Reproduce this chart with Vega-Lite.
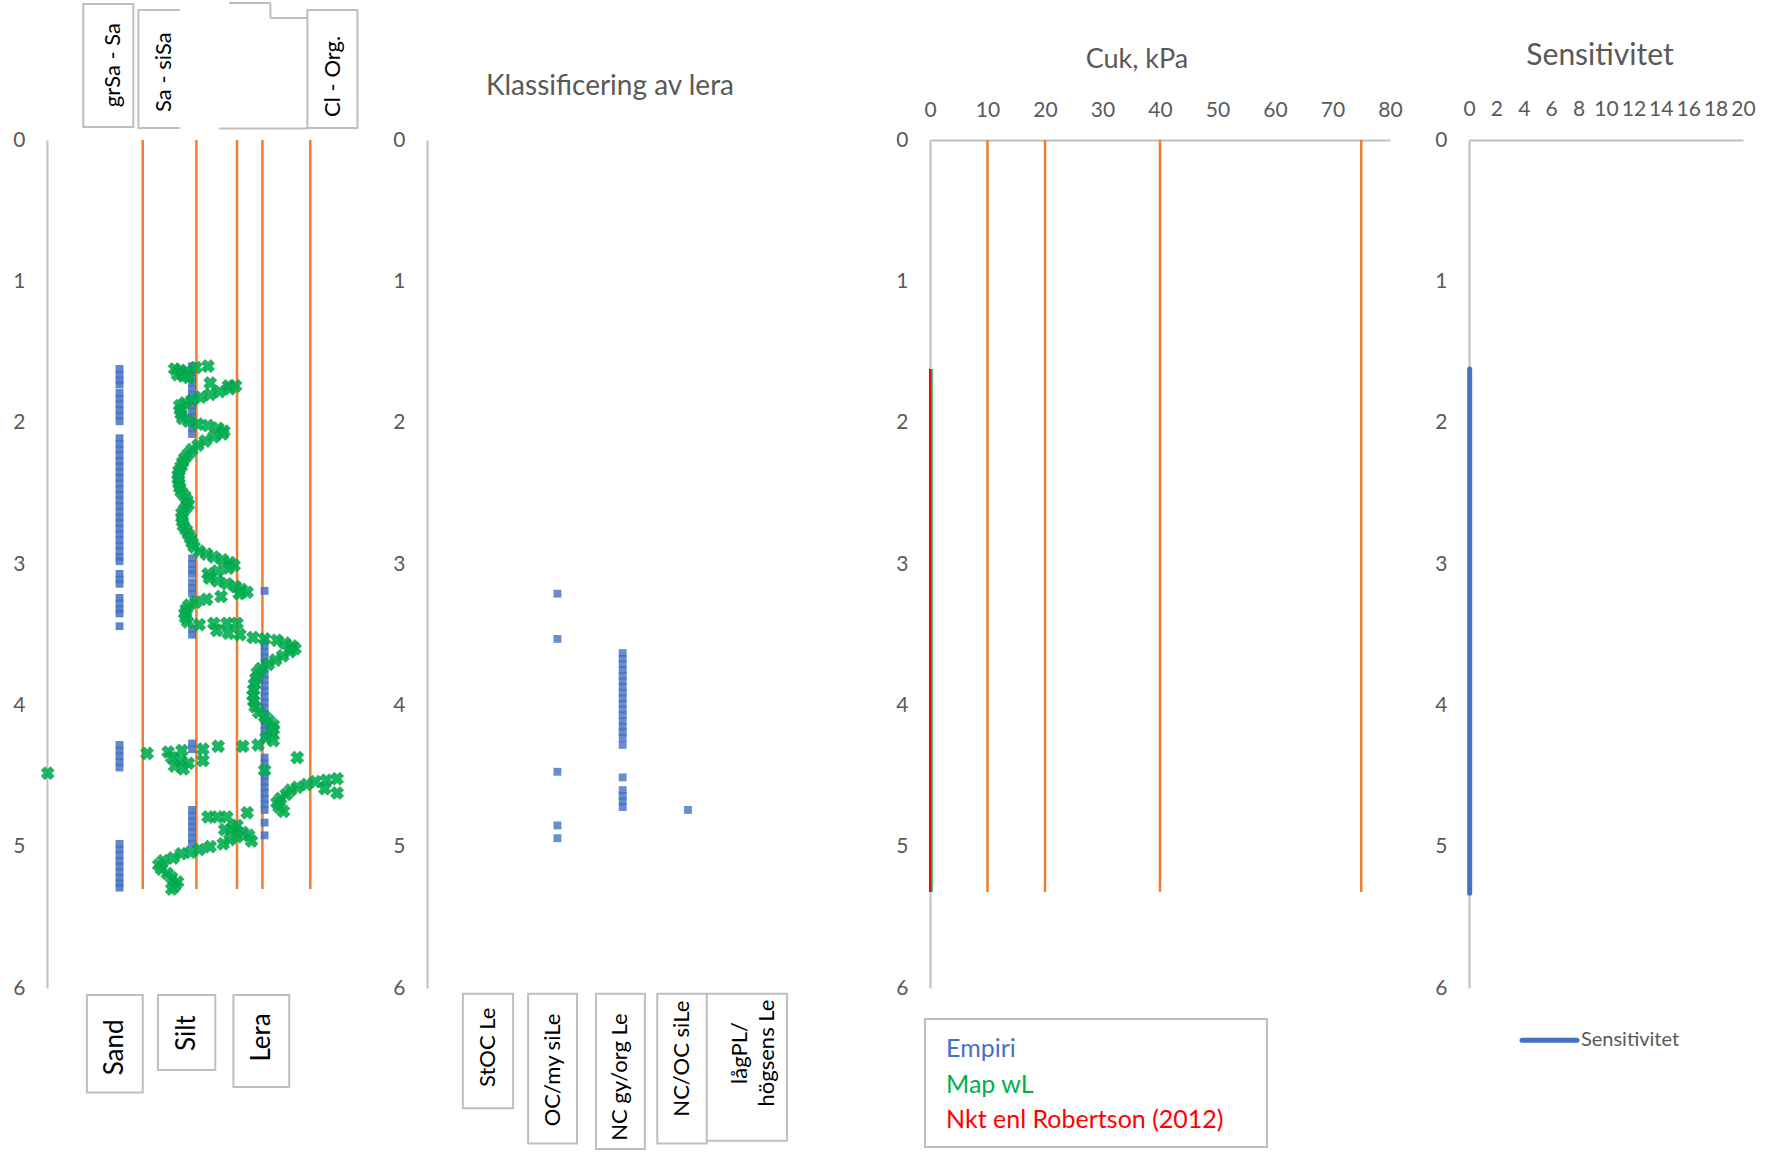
{
  "$schema": "https://vega.github.io/schema/vega-lite/v6.json",
  "padding": {"left": 12, "top": 2, "right": 0, "bottom": 0},
  "bounds": "flush",
  "spacing": 79,
  "config": {
    "view": {"stroke": null},
    "font": "Lato",
    "axis": {"domainColor": "#BFBFBF", "domainWidth": 2, "labelColor": "#595959", "labelFont": "Lato", "labelFontSize": 21, "tickSize": 0, "tickOpacity": 0, "grid": false, "labelPadding": 22, "labelFlush": false},
    "title": {"font": "Lato", "color": "#595959", "fontWeight": "normal", "frame": "group", "anchor": "middle"},
    "text": {"font": "Lato"}
  },
  "datasets": {
    "p1Limits": [{"x": 1.32, "top": 0, "bottom": 5.3}, {"x": 2.06, "top": 0, "bottom": 5.3}, {"x": 2.62, "top": 0, "bottom": 5.3}, {"x": 2.97, "top": 0, "bottom": 5.3}, {"x": 3.63, "top": 0, "bottom": 5.3}],
    "p1Soil": [
      {"v": 1, "d": 1.62}, {"v": 1, "d": 1.66}, {"v": 1, "d": 1.70}, {"v": 1, "d": 1.73},
      {"v": 1, "d": 1.79}, {"v": 1, "d": 1.83}, {"v": 1, "d": 1.87}, {"v": 1, "d": 1.91}, {"v": 1, "d": 1.95}, {"v": 1, "d": 1.99},
      {"v": 1, "d": 2.11}, {"v": 1, "d": 2.15}, {"v": 1, "d": 2.19}, {"v": 1, "d": 2.23}, {"v": 1, "d": 2.27}, {"v": 1, "d": 2.31}, {"v": 1, "d": 2.35}, {"v": 1, "d": 2.39}, {"v": 1, "d": 2.43}, {"v": 1, "d": 2.47}, {"v": 1, "d": 2.51}, {"v": 1, "d": 2.55}, {"v": 1, "d": 2.59}, {"v": 1, "d": 2.63}, {"v": 1, "d": 2.67}, {"v": 1, "d": 2.71}, {"v": 1, "d": 2.75}, {"v": 1, "d": 2.79}, {"v": 1, "d": 2.83}, {"v": 1, "d": 2.87}, {"v": 1, "d": 2.91}, {"v": 1, "d": 2.95}, {"v": 1, "d": 2.98},
      {"v": 1, "d": 3.07}, {"v": 1, "d": 3.11}, {"v": 1, "d": 3.14},
      {"v": 1, "d": 3.24}, {"v": 1, "d": 3.28}, {"v": 1, "d": 3.32}, {"v": 1, "d": 3.35}, {"v": 1, "d": 3.44},
      {"v": 1, "d": 4.28}, {"v": 1, "d": 4.32}, {"v": 1, "d": 4.36}, {"v": 1, "d": 4.40}, {"v": 1, "d": 4.44},
      {"v": 1, "d": 4.98}, {"v": 1, "d": 5.02}, {"v": 1, "d": 5.06}, {"v": 1, "d": 5.10}, {"v": 1, "d": 5.14}, {"v": 1, "d": 5.18}, {"v": 1, "d": 5.22}, {"v": 1, "d": 5.26}, {"v": 1, "d": 5.29},
      {"v": 2, "d": 1.60}, {"v": 2, "d": 1.64}, {"v": 2, "d": 1.68}, {"v": 2, "d": 1.72}, {"v": 2, "d": 1.76}, {"v": 2, "d": 1.80}, {"v": 2, "d": 1.84}, {"v": 2, "d": 1.88}, {"v": 2, "d": 1.92}, {"v": 2, "d": 1.96}, {"v": 2, "d": 2.00}, {"v": 2, "d": 2.04}, {"v": 2, "d": 2.08},
      {"v": 2, "d": 2.96}, {"v": 2, "d": 3.00}, {"v": 2, "d": 3.04}, {"v": 2, "d": 3.07}, {"v": 2, "d": 3.13}, {"v": 2, "d": 3.17}, {"v": 2, "d": 3.21}, {"v": 2, "d": 3.46}, {"v": 2, "d": 3.50},
      {"v": 2, "d": 4.27}, {"v": 2, "d": 4.31}, {"v": 2, "d": 4.74}, {"v": 2, "d": 4.78}, {"v": 2, "d": 4.82}, {"v": 2, "d": 4.86}, {"v": 2, "d": 4.90}, {"v": 2, "d": 4.94}, {"v": 2, "d": 4.98},
      {"v": 3, "d": 3.19}, {"v": 3, "d": 3.54}, {"v": 3, "d": 3.58}, {"v": 3, "d": 3.62}, {"v": 3, "d": 3.66}, {"v": 3, "d": 3.70}, {"v": 3, "d": 3.74}, {"v": 3, "d": 3.78}, {"v": 3, "d": 3.82}, {"v": 3, "d": 3.86}, {"v": 3, "d": 3.90}, {"v": 3, "d": 3.94}, {"v": 3, "d": 3.98}, {"v": 3, "d": 4.02}, {"v": 3, "d": 4.06}, {"v": 3, "d": 4.10}, {"v": 3, "d": 4.14}, {"v": 3, "d": 4.18}, {"v": 3, "d": 4.22},
      {"v": 3, "d": 4.37}, {"v": 3, "d": 4.41}, {"v": 3, "d": 4.46}, {"v": 3, "d": 4.50}, {"v": 3, "d": 4.54}, {"v": 3, "d": 4.58}, {"v": 3, "d": 4.62}, {"v": 3, "d": 4.66}, {"v": 3, "d": 4.70}, {"v": 3, "d": 4.74}, {"v": 3, "d": 4.83}, {"v": 3, "d": 4.92}
    ],
    "p1Map": [
      {"d": 1.60, "v": 2.22}, {"d": 1.61, "v": 2.05}, {"d": 1.62, "v": 1.76}, {"d": 1.63, "v": 1.84}, {"d": 1.64, "v": 1.92}, {"d": 1.66, "v": 1.80}, {"d": 1.67, "v": 1.88}, {"d": 1.68, "v": 1.95},
      {"d": 1.72, "v": 2.25}, {"d": 1.74, "v": 2.50}, {"d": 1.74, "v": 2.60}, {"d": 1.76, "v": 2.52}, {"d": 1.78, "v": 2.38}, {"d": 1.80, "v": 2.25}, {"d": 1.82, "v": 2.12}, {"d": 1.84, "v": 2.00}, {"d": 1.86, "v": 1.90}, {"d": 1.88, "v": 1.83},
      {"d": 1.91, "v": 1.84}, {"d": 1.94, "v": 1.85}, {"d": 1.97, "v": 1.87}, {"d": 1.99, "v": 1.95}, {"d": 2.01, "v": 2.08}, {"d": 2.02, "v": 2.22}, {"d": 2.04, "v": 2.36}, {"d": 2.06, "v": 2.44}, {"d": 2.08, "v": 2.42}, {"d": 2.10, "v": 2.30},
      {"d": 2.13, "v": 2.18}, {"d": 2.16, "v": 2.08}, {"d": 2.19, "v": 2.00}, {"d": 2.22, "v": 1.95}, {"d": 2.25, "v": 1.90}, {"d": 2.28, "v": 1.87}, {"d": 2.31, "v": 1.85}, {"d": 2.34, "v": 1.82}, {"d": 2.37, "v": 1.81}, {"d": 2.40, "v": 1.81},
      {"d": 2.43, "v": 1.82}, {"d": 2.46, "v": 1.83}, {"d": 2.49, "v": 1.85}, {"d": 2.52, "v": 1.90}, {"d": 2.55, "v": 1.93}, {"d": 2.58, "v": 1.95}, {"d": 2.61, "v": 1.90}, {"d": 2.64, "v": 1.86}, {"d": 2.67, "v": 1.86}, {"d": 2.70, "v": 1.87},
      {"d": 2.73, "v": 1.88}, {"d": 2.76, "v": 1.92}, {"d": 2.79, "v": 1.95}, {"d": 2.82, "v": 1.98}, {"d": 2.85, "v": 2.00}, {"d": 2.88, "v": 2.03}, {"d": 2.91, "v": 2.10}, {"d": 2.93, "v": 2.20}, {"d": 2.95, "v": 2.30}, {"d": 2.97, "v": 2.42},
      {"d": 2.99, "v": 2.52}, {"d": 3.01, "v": 2.58}, {"d": 3.03, "v": 2.50}, {"d": 3.05, "v": 2.35}, {"d": 3.07, "v": 2.22}, {"d": 3.10, "v": 2.24}, {"d": 3.12, "v": 2.35}, {"d": 3.14, "v": 2.48}, {"d": 3.16, "v": 2.60}, {"d": 3.18, "v": 2.68},
      {"d": 3.20, "v": 2.76}, {"d": 3.21, "v": 2.65}, {"d": 3.23, "v": 2.40}, {"d": 3.25, "v": 2.20}, {"d": 3.27, "v": 2.05}, {"d": 3.29, "v": 1.96}, {"d": 3.32, "v": 1.92}, {"d": 3.35, "v": 1.90}, {"d": 3.38, "v": 1.91}, {"d": 3.41, "v": 1.94},
      {"d": 3.43, "v": 2.10}, {"d": 3.42, "v": 2.30}, {"d": 3.42, "v": 2.48}, {"d": 3.42, "v": 2.62}, {"d": 3.47, "v": 2.34}, {"d": 3.49, "v": 2.50}, {"d": 3.50, "v": 2.66}, {"d": 3.52, "v": 2.84}, {"d": 3.53, "v": 3.00}, {"d": 3.54, "v": 3.17},
      {"d": 3.56, "v": 3.28}, {"d": 3.58, "v": 3.38}, {"d": 3.60, "v": 3.42}, {"d": 3.62, "v": 3.35}, {"d": 3.65, "v": 3.25}, {"d": 3.68, "v": 3.15}, {"d": 3.71, "v": 3.05}, {"d": 3.74, "v": 2.95}, {"d": 3.77, "v": 2.90}, {"d": 3.81, "v": 2.88},
      {"d": 3.85, "v": 2.86}, {"d": 3.89, "v": 2.85}, {"d": 3.93, "v": 2.84}, {"d": 3.97, "v": 2.85}, {"d": 4.01, "v": 2.87}, {"d": 4.05, "v": 2.92}, {"d": 4.08, "v": 3.00}, {"d": 4.11, "v": 3.06}, {"d": 4.14, "v": 3.12}, {"d": 4.17, "v": 3.12},
      {"d": 4.20, "v": 3.10}, {"d": 4.23, "v": 3.02}, {"d": 4.25, "v": 3.12}, {"d": 4.28, "v": 2.91}, {"d": 4.29, "v": 2.70}, {"d": 4.29, "v": 2.36}, {"d": 4.31, "v": 2.15}, {"d": 4.32, "v": 1.86}, {"d": 4.33, "v": 1.67}, {"d": 4.34, "v": 1.38},
      {"d": 4.37, "v": 1.72}, {"d": 4.39, "v": 1.84}, {"d": 4.41, "v": 1.95}, {"d": 4.43, "v": 1.76}, {"d": 4.45, "v": 1.88}, {"d": 4.39, "v": 2.15}, {"d": 4.37, "v": 3.45}, {"d": 4.46, "v": 3.00}, {"d": 4.48, "v": 0.01},
      {"d": 4.52, "v": 4.00}, {"d": 4.53, "v": 3.85}, {"d": 4.54, "v": 3.70}, {"d": 4.56, "v": 3.58}, {"d": 4.58, "v": 3.45}, {"d": 4.60, "v": 3.36}, {"d": 4.59, "v": 3.83}, {"d": 4.62, "v": 4.00}, {"d": 4.63, "v": 3.30}, {"d": 4.66, "v": 3.22},
      {"d": 4.69, "v": 3.17}, {"d": 4.72, "v": 3.20}, {"d": 4.75, "v": 3.26}, {"d": 4.79, "v": 2.22}, {"d": 4.79, "v": 2.35}, {"d": 4.79, "v": 2.48}, {"d": 4.76, "v": 2.76}, {"d": 4.85, "v": 2.62}, {"d": 4.87, "v": 2.55}, {"d": 4.88, "v": 2.45},
      {"d": 4.90, "v": 2.70}, {"d": 4.92, "v": 2.78}, {"d": 4.93, "v": 2.62}, {"d": 4.95, "v": 2.52}, {"d": 4.96, "v": 2.82}, {"d": 4.98, "v": 2.43}, {"d": 5.00, "v": 2.25}, {"d": 5.02, "v": 2.10}, {"d": 5.04, "v": 1.98}, {"d": 5.05, "v": 1.85},
      {"d": 5.08, "v": 1.74}, {"d": 5.10, "v": 1.60}, {"d": 5.13, "v": 1.54}, {"d": 5.16, "v": 1.58}, {"d": 5.19, "v": 1.66}, {"d": 5.22, "v": 1.72}, {"d": 5.25, "v": 1.80}, {"d": 5.28, "v": 1.76}, {"d": 5.30, "v": 1.72}
    ],
    "p1TopBoxes": [
      {"x1": 0.50, "x2": 1.19, "y1": -0.962, "y2": -0.092},
      {"x1": 1.26, "x2": 1.95, "y1": -0.92, "y2": -0.085}
    ],
    "p1Edges": [
      {"x1": 2.51, "x2": 3.08, "y": -0.969},
      {"x1": 3.08, "x2": 3.59, "y": -0.863},
      {"x1": 2.37, "x2": 3.59, "y": -0.081}
    ],
    "p1TopLabels": [
      {"t": "grSa - Sa", "tx": 0.91, "ty": -0.53},
      {"t": "Sa - siSa", "tx": 1.61, "ty": -0.48},
      {"t": "Cl - Org.", "tx": 3.94, "ty": -0.45}
    ],
    "p1Classes": [
      {"t": "Sand", "x1": 0.55, "x2": 1.32, "y1": 6.05, "y2": 6.74, "tx": 0.94, "ty": 6.42},
      {"t": "Silt", "x1": 1.53, "x2": 2.32, "y1": 6.05, "y2": 6.58, "tx": 1.93, "ty": 6.32},
      {"t": "Lera", "x1": 2.57, "x2": 3.34, "y1": 6.05, "y2": 6.70, "tx": 2.96, "ty": 6.35}
    ],
    "p2Clay": [
      {"v": 2, "d": 3.21}, {"v": 2, "d": 3.53}, {"v": 2, "d": 4.47}, {"v": 2, "d": 4.85}, {"v": 2, "d": 4.94},
      {"v": 3, "d": 3.63}, {"v": 3, "d": 3.67}, {"v": 3, "d": 3.71}, {"v": 3, "d": 3.75}, {"v": 3, "d": 3.79}, {"v": 3, "d": 3.83}, {"v": 3, "d": 3.87}, {"v": 3, "d": 3.91}, {"v": 3, "d": 3.95}, {"v": 3, "d": 3.99}, {"v": 3, "d": 4.03}, {"v": 3, "d": 4.07}, {"v": 3, "d": 4.11}, {"v": 3, "d": 4.15}, {"v": 3, "d": 4.19}, {"v": 3, "d": 4.23}, {"v": 3, "d": 4.28},
      {"v": 3, "d": 4.51}, {"v": 3, "d": 4.60}, {"v": 3, "d": 4.64}, {"v": 3, "d": 4.68}, {"v": 3, "d": 4.72},
      {"v": 4, "d": 4.74}
    ],
    "p2Classes": [
      {"t": "StOC Le", "x1": 0.55, "x2": 1.32, "y1": 6.04, "y2": 6.85, "tx": 0.94, "ty": 6.42},
      {"t": "OC/my siLe", "x1": 1.55, "x2": 2.30, "y1": 6.04, "y2": 7.10, "tx": 1.93, "ty": 6.58},
      {"t": "NC gy/org Le", "x1": 2.59, "x2": 3.34, "y1": 6.04, "y2": 7.14, "tx": 2.96, "ty": 6.63},
      {"t": "NC/OC siLe", "x1": 3.53, "x2": 4.29, "y1": 6.04, "y2": 7.10, "tx": 3.91, "ty": 6.50},
      {"t": "lågPL/\nhögsens Le", "x1": 4.29, "x2": 5.52, "y1": 6.04, "y2": 7.08, "tx": 4.80, "ty": 6.46}
    ],
    "p3Limits": [{"x": 10, "top": 0, "bottom": 5.32}, {"x": 20, "top": 0, "bottom": 5.32}, {"x": 40, "top": 0, "bottom": 5.32}, {"x": 75, "top": 0, "bottom": 5.32}],
    "cuk": [
      {"s": "Empiri", "d": 1.62, "c": 0.0}, {"s": "Empiri", "d": 2.5, "c": 0.0}, {"s": "Empiri", "d": 3.5, "c": 0.0}, {"s": "Empiri", "d": 4.5, "c": 0.0}, {"s": "Empiri", "d": 5.32, "c": 0.0},
      {"s": "Map wL", "d": 1.62, "c": 0.3}, {"s": "Map wL", "d": 2.5, "c": 0.3}, {"s": "Map wL", "d": 3.5, "c": 0.3}, {"s": "Map wL", "d": 4.5, "c": 0.3}, {"s": "Map wL", "d": 5.32, "c": 0.3},
      {"s": "Nkt enl Robertson (2012)", "d": 1.62, "c": 0.0}, {"s": "Nkt enl Robertson (2012)", "d": 2.5, "c": 0.0}, {"s": "Nkt enl Robertson (2012)", "d": 3.5, "c": 0.0}, {"s": "Nkt enl Robertson (2012)", "d": 4.5, "c": 0.0}, {"s": "Nkt enl Robertson (2012)", "d": 5.32, "c": 0.0}
    ],
    "cukKey": [
      {"s": "Empiri", "x": 2.8, "d": 6.49},
      {"s": "Map wL", "x": 2.8, "d": 6.74},
      {"s": "Nkt enl Robertson (2012)", "x": 2.8, "d": 6.99}
    ],
    "sens": [{"d": 1.62, "st": 0.05}, {"d": 2.5, "st": 0.05}, {"d": 3.5, "st": 0.05}, {"d": 4.5, "st": 0.05}, {"d": 5.33, "st": 0.05}],
    "sensKey": [{"x1": 3.87, "x2": 7.88, "tx": 8.17, "d": 6.37, "t": "Sensitivitet"}]
  },
  "hconcat": [
    {
      "width": 301,
      "height": 848,
      "layer": [
        {
          "data": {"name": "p1Limits"},
          "mark": {"type": "rule", "color": "#ED7D31", "strokeWidth": 2.5},
          "encoding": {
            "x": {"field": "x", "type": "quantitative", "title": null, "axis": null, "scale": {"domain": [0, 4.15], "nice": false, "zero": false}},
            "y": {"field": "top", "type": "quantitative", "title": null, "scale": {"domain": [0, 6], "reverse": true, "nice": false, "zero": false}, "axis": {"values": [0, 1, 2, 3, 4, 5, 6]}},
            "y2": {"field": "bottom"}
          }
        },
        {
          "data": {"name": "p1Soil"},
          "mark": {"type": "point", "shape": "square", "filled": true, "size": 62, "color": "#4472C4", "opacity": 0.85},
          "encoding": {
            "x": {"field": "v", "type": "quantitative", "title": null, "axis": null, "scale": {"domain": [0, 4.15], "nice": false, "zero": false}},
            "y": {"field": "d", "type": "quantitative", "title": null, "scale": {"domain": [0, 6], "reverse": true, "nice": false, "zero": false}, "axis": {"values": [0, 1, 2, 3, 4, 5, 6]}}
          }
        },
        {
          "data": {"name": "p1Map"},
          "mark": {"type": "point", "shape": "cross", "angle": 45, "filled": true, "size": 175, "color": "#00B050", "stroke": "#0E8F45", "strokeWidth": 0.6, "opacity": 0.9},
          "encoding": {
            "x": {"field": "v", "type": "quantitative", "title": null, "axis": null, "scale": {"domain": [0, 4.15], "nice": false, "zero": false}},
            "y": {"field": "d", "type": "quantitative", "title": null, "scale": {"domain": [0, 6], "reverse": true, "nice": false, "zero": false}, "axis": {"values": [0, 1, 2, 3, 4, 5, 6]}}
          }
        },
        {
          "data": {"name": "p1TopBoxes"},
          "mark": {"type": "rect", "fill": "white", "stroke": "#BFBFBF", "strokeWidth": 2},
          "encoding": {
            "x": {"field": "x1", "type": "quantitative", "title": null, "axis": null, "scale": {"domain": [0, 4.15], "nice": false, "zero": false}},
            "x2": {"field": "x2"},
            "y": {"field": "y1", "type": "quantitative", "title": null, "scale": {"domain": [0, 6], "reverse": true, "nice": false, "zero": false}, "axis": {"values": [0, 1, 2, 3, 4, 5, 6]}},
            "y2": {"field": "y2"}
          }
        },
        {
          "data": {"values": [{"x1": 1.83, "x2": 3.59, "y1": -0.975, "y2": -0.078}]},
          "mark": {"type": "rect", "fill": "white", "strokeWidth": 0},
          "encoding": {
            "x": {"field": "x1", "type": "quantitative", "title": null, "axis": null, "scale": {"domain": [0, 4.15], "nice": false, "zero": false}},
            "x2": {"field": "x2"},
            "y": {"field": "y1", "type": "quantitative", "title": null, "scale": {"domain": [0, 6], "reverse": true, "nice": false, "zero": false}, "axis": {"values": [0, 1, 2, 3, 4, 5, 6]}},
            "y2": {"field": "y2"}
          }
        },
        {
          "data": {"name": "p1Edges"},
          "mark": {"type": "rule", "color": "#BFBFBF", "strokeWidth": 2},
          "encoding": {
            "x": {"field": "x1", "type": "quantitative", "title": null, "axis": null, "scale": {"domain": [0, 4.15], "nice": false, "zero": false}},
            "x2": {"field": "x2"},
            "y": {"field": "y", "type": "quantitative", "title": null, "scale": {"domain": [0, 6], "reverse": true, "nice": false, "zero": false}, "axis": {"values": [0, 1, 2, 3, 4, 5, 6]}}
          }
        },
        {
          "data": {"values": [{"x": 3.08, "y1": -0.969, "y2": -0.863}]},
          "mark": {"type": "rule", "color": "#BFBFBF", "strokeWidth": 2},
          "encoding": {
            "x": {"field": "x", "type": "quantitative", "title": null, "axis": null, "scale": {"domain": [0, 4.15], "nice": false, "zero": false}},
            "y": {"field": "y1", "type": "quantitative", "title": null, "scale": {"domain": [0, 6], "reverse": true, "nice": false, "zero": false}, "axis": {"values": [0, 1, 2, 3, 4, 5, 6]}},
            "y2": {"field": "y2"}
          }
        },
        {
          "data": {"values": [{"x1": 3.59, "x2": 4.28, "y1": -0.92, "y2": -0.085}]},
          "mark": {"type": "rect", "fill": "white", "stroke": "#BFBFBF", "strokeWidth": 2},
          "encoding": {
            "x": {"field": "x1", "type": "quantitative", "title": null, "axis": null, "scale": {"domain": [0, 4.15], "nice": false, "zero": false}},
            "x2": {"field": "x2"},
            "y": {"field": "y1", "type": "quantitative", "title": null, "scale": {"domain": [0, 6], "reverse": true, "nice": false, "zero": false}, "axis": {"values": [0, 1, 2, 3, 4, 5, 6]}},
            "y2": {"field": "y2"}
          }
        },
        {
          "data": {"name": "p1TopLabels"},
          "mark": {"type": "text", "angle": 270, "fontSize": 22, "color": "#000000", "align": "center", "baseline": "middle"},
          "encoding": {
            "x": {"field": "tx", "type": "quantitative", "title": null, "axis": null, "scale": {"domain": [0, 4.15], "nice": false, "zero": false}},
            "y": {"field": "ty", "type": "quantitative", "title": null, "scale": {"domain": [0, 6], "reverse": true, "nice": false, "zero": false}, "axis": {"values": [0, 1, 2, 3, 4, 5, 6]}},
            "text": {"field": "t"}
          }
        },
        {
          "data": {"name": "p1Classes"},
          "mark": {"type": "rect", "fill": "white", "stroke": "#BFBFBF", "strokeWidth": 2},
          "encoding": {
            "x": {"field": "x1", "type": "quantitative", "title": null, "axis": null, "scale": {"domain": [0, 4.15], "nice": false, "zero": false}},
            "x2": {"field": "x2"},
            "y": {"field": "y1", "type": "quantitative", "title": null, "scale": {"domain": [0, 6], "reverse": true, "nice": false, "zero": false}, "axis": {"values": [0, 1, 2, 3, 4, 5, 6]}},
            "y2": {"field": "y2"}
          }
        },
        {
          "data": {"name": "p1Classes"},
          "mark": {"type": "text", "angle": 270, "fontSize": 26, "color": "#000000", "align": "center", "baseline": "middle"},
          "encoding": {
            "x": {"field": "tx", "type": "quantitative", "title": null, "axis": null, "scale": {"domain": [0, 4.15], "nice": false, "zero": false}},
            "y": {"field": "ty", "type": "quantitative", "title": null, "scale": {"domain": [0, 6], "reverse": true, "nice": false, "zero": false}, "axis": {"values": [0, 1, 2, 3, 4, 5, 6]}},
            "text": {"field": "t"}
          }
        }
      ]
    },
    {
      "width": 424,
      "height": 848,
      "title": {"text": "Klassificering av lera", "fontSize": 28, "offset": 28, "dx": -29},
      "layer": [
        {
          "data": {"name": "p2Clay"},
          "mark": {"type": "point", "shape": "square", "filled": true, "size": 62, "color": "#4472C4", "opacity": 0.8},
          "encoding": {
            "x": {"field": "v", "type": "quantitative", "title": null, "axis": null, "scale": {"domain": [0, 6.5], "nice": false, "zero": false}},
            "y": {"field": "d", "type": "quantitative", "title": null, "scale": {"domain": [0, 6], "reverse": true, "nice": false, "zero": false}, "axis": {"values": [0, 1, 2, 3, 4, 5, 6]}}
          }
        },
        {
          "data": {"name": "p2Classes"},
          "mark": {"type": "rect", "fill": "white", "stroke": "#BFBFBF", "strokeWidth": 2},
          "encoding": {
            "x": {"field": "x1", "type": "quantitative", "title": null, "axis": null, "scale": {"domain": [0, 6.5], "nice": false, "zero": false}},
            "x2": {"field": "x2"},
            "y": {"field": "y1", "type": "quantitative", "title": null, "scale": {"domain": [0, 6], "reverse": true, "nice": false, "zero": false}, "axis": {"values": [0, 1, 2, 3, 4, 5, 6]}},
            "y2": {"field": "y2"}
          }
        },
        {
          "data": {"name": "p2Classes"},
          "mark": {"type": "text", "angle": 270, "fontSize": 22, "lineHeight": 27, "lineBreak": "\n", "color": "#000000", "align": "center", "baseline": "middle"},
          "encoding": {
            "x": {"field": "tx", "type": "quantitative", "title": null, "axis": null, "scale": {"domain": [0, 6.5], "nice": false, "zero": false}},
            "y": {"field": "ty", "type": "quantitative", "title": null, "scale": {"domain": [0, 6], "reverse": true, "nice": false, "zero": false}, "axis": {"values": [0, 1, 2, 3, 4, 5, 6]}},
            "text": {"field": "t"}
          }
        }
      ]
    },
    {
      "width": 460,
      "height": 848,
      "title": {"text": "Cuk,  kPa", "fontSize": 27, "offset": 25, "dx": -23},
      "layer": [
        {
          "data": {"name": "p3Limits"},
          "mark": {"type": "rule", "color": "#ED7D31", "strokeWidth": 2.5},
          "encoding": {
            "x": {"field": "x", "type": "quantitative", "title": null, "scale": {"domain": [0, 80], "nice": false, "zero": false}, "axis": {"orient": "top", "values": [0, 10, 20, 30, 40, 50, 60, 70, 80], "labelPadding": 20}},
            "y": {"field": "top", "type": "quantitative", "title": null, "scale": {"domain": [0, 6], "reverse": true, "nice": false, "zero": false}, "axis": {"values": [0, 1, 2, 3, 4, 5, 6]}},
            "y2": {"field": "bottom"}
          }
        },
        {
          "data": {"name": "cuk"},
          "mark": {"type": "line", "strokeWidth": 2},
          "encoding": {
            "x": {"field": "c", "type": "quantitative", "title": null, "scale": {"domain": [0, 80], "nice": false, "zero": false}, "axis": {"orient": "top", "values": [0, 10, 20, 30, 40, 50, 60, 70, 80], "labelPadding": 20}},
            "y": {"field": "d", "type": "quantitative", "title": null, "scale": {"domain": [0, 6], "reverse": true, "nice": false, "zero": false}, "axis": {"values": [0, 1, 2, 3, 4, 5, 6]}},
            "color": {"field": "s", "type": "nominal", "legend": null, "scale": {"domain": ["Empiri", "Map wL", "Nkt enl Robertson (2012)"], "range": ["#4472C4", "#00B050", "#FF0000"]}},
            "order": {"field": "d"}
          }
        },
        {
          "data": {"values": [{"x1": -0.87, "x2": 58.6, "y1": 6.22, "y2": 7.125}]},
          "mark": {"type": "rect", "fill": "white", "stroke": "#BFBFBF", "strokeWidth": 2},
          "encoding": {
            "x": {"field": "x1", "type": "quantitative", "title": null, "scale": {"domain": [0, 80], "nice": false, "zero": false}, "axis": {"orient": "top", "values": [0, 10, 20, 30, 40, 50, 60, 70, 80], "labelPadding": 20}},
            "x2": {"field": "x2"},
            "y": {"field": "y1", "type": "quantitative", "title": null, "scale": {"domain": [0, 6], "reverse": true, "nice": false, "zero": false}, "axis": {"values": [0, 1, 2, 3, 4, 5, 6]}},
            "y2": {"field": "y2"}
          }
        },
        {
          "data": {"name": "cukKey"},
          "mark": {"type": "text", "fontSize": 25, "align": "left", "baseline": "alphabetic"},
          "encoding": {
            "x": {"field": "x", "type": "quantitative", "title": null, "scale": {"domain": [0, 80], "nice": false, "zero": false}, "axis": {"orient": "top", "values": [0, 10, 20, 30, 40, 50, 60, 70, 80], "labelPadding": 20}},
            "y": {"field": "d", "type": "quantitative", "title": null, "scale": {"domain": [0, 6], "reverse": true, "nice": false, "zero": false}, "axis": {"values": [0, 1, 2, 3, 4, 5, 6]}},
            "text": {"field": "s"},
            "color": {"field": "s", "type": "nominal", "legend": null, "scale": {"domain": ["Empiri", "Map wL", "Nkt enl Robertson (2012)"], "range": ["#4472C4", "#00B050", "#FF0000"]}}
          }
        }
      ]
    },
    {
      "width": 274,
      "height": 848,
      "title": {"text": "Sensitivitet", "fontSize": 30, "offset": 27, "dx": -6},
      "layer": [
        {
          "data": {"name": "sens"},
          "mark": {"type": "line", "color": "#4472C4", "strokeWidth": 5, "strokeCap": "round"},
          "encoding": {
            "x": {"field": "st", "type": "quantitative", "title": null, "scale": {"domain": [0, 20], "nice": false, "zero": false}, "axis": {"orient": "top", "values": [0, 2, 4, 6, 8, 10, 12, 14, 16, 18, 20], "labelPadding": 21, "labelOverlap": false}},
            "y": {"field": "d", "type": "quantitative", "title": null, "scale": {"domain": [0, 6], "reverse": true, "nice": false, "zero": false}, "axis": {"values": [0, 1, 2, 3, 4, 5, 6]}},
            "order": {"field": "d"}
          }
        },
        {
          "data": {"name": "sensKey"},
          "mark": {"type": "rule", "color": "#4472C4", "strokeWidth": 5, "strokeCap": "round"},
          "encoding": {
            "x": {"field": "x1", "type": "quantitative", "title": null, "scale": {"domain": [0, 20], "nice": false, "zero": false}, "axis": {"orient": "top", "values": [0, 2, 4, 6, 8, 10, 12, 14, 16, 18, 20], "labelPadding": 21, "labelOverlap": false}},
            "x2": {"field": "x2"},
            "y": {"field": "d", "type": "quantitative", "title": null, "scale": {"domain": [0, 6], "reverse": true, "nice": false, "zero": false}, "axis": {"values": [0, 1, 2, 3, 4, 5, 6]}}
          }
        },
        {
          "data": {"name": "sensKey"},
          "mark": {"type": "text", "fontSize": 20, "color": "#595959", "align": "left", "baseline": "middle"},
          "encoding": {
            "x": {"field": "tx", "type": "quantitative", "title": null, "scale": {"domain": [0, 20], "nice": false, "zero": false}, "axis": {"orient": "top", "values": [0, 2, 4, 6, 8, 10, 12, 14, 16, 18, 20], "labelPadding": 21, "labelOverlap": false}},
            "y": {"field": "d", "type": "quantitative", "title": null, "scale": {"domain": [0, 6], "reverse": true, "nice": false, "zero": false}, "axis": {"values": [0, 1, 2, 3, 4, 5, 6]}},
            "text": {"field": "t"}
          }
        }
      ]
    }
  ]
}
